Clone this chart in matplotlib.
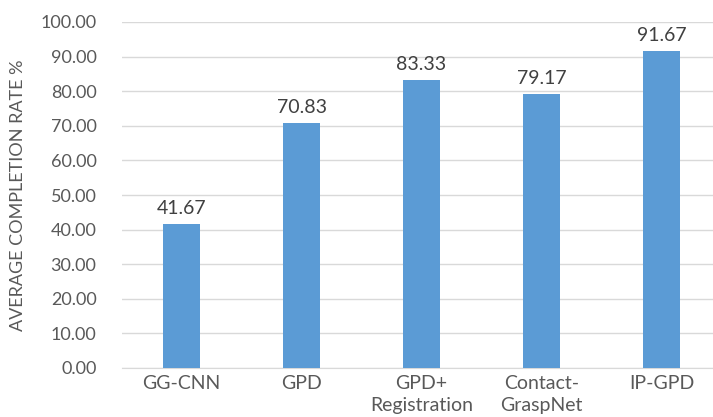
import numpy as np
import matplotlib.pyplot as plt

methods = ['GG-CNN', 'GPD', 'GPD+\nRegistration', 'Contact-\nGraspNet', 'IP-GPD']
rates = [41.67, 70.83, 83.33, 79.17, 91.67]
yticks = np.arange(0, 101, 10)

plt.rcParams['font.family'] = ['Lato', 'DejaVu Sans']

fig = plt.figure(figsize=(7.13, 4.17), dpi=100)
ax = fig.add_axes([121.5/713, 49/417, 600/713, 346/417])

x = np.arange(len(methods))
bars = ax.bar(x, rates, width=0.31, color='#5B9BD5', zorder=3)
for xi, v in zip(x, rates):
    ax.annotate(f'{v:.2f}', (xi, v), xytext=(0, 5), textcoords='offset points',
                ha='center', va='bottom', fontsize=14, color='#404040')

ax.set_xlim(-0.5, len(methods) - 0.5)
ax.set_ylim(0, 100)
ax.set_yticks(yticks)
ax.set_yticklabels([f'{t:.2f}' for t in yticks])
ax.set_xticks(x)
ax.set_xticklabels(methods, linespacing=1.35)
ax.tick_params(axis='y', length=0, pad=18, labelsize=13, labelcolor='#595959')
ax.tick_params(axis='x', length=0, pad=5, labelsize=14, labelcolor='#595959')
ax.grid(axis='y', color='#D9D9D9', linewidth=1, zorder=0)
for s in ['top', 'right', 'left']:
    ax.spines[s].set_visible(False)
ax.spines['bottom'].set_color('#D9D9D9')
ax.set_ylabel('AVERAGE COMPLETION RATE %', fontsize=13, color='#595959', labelpad=10)

fig.savefig('out.png', dpi=100)
